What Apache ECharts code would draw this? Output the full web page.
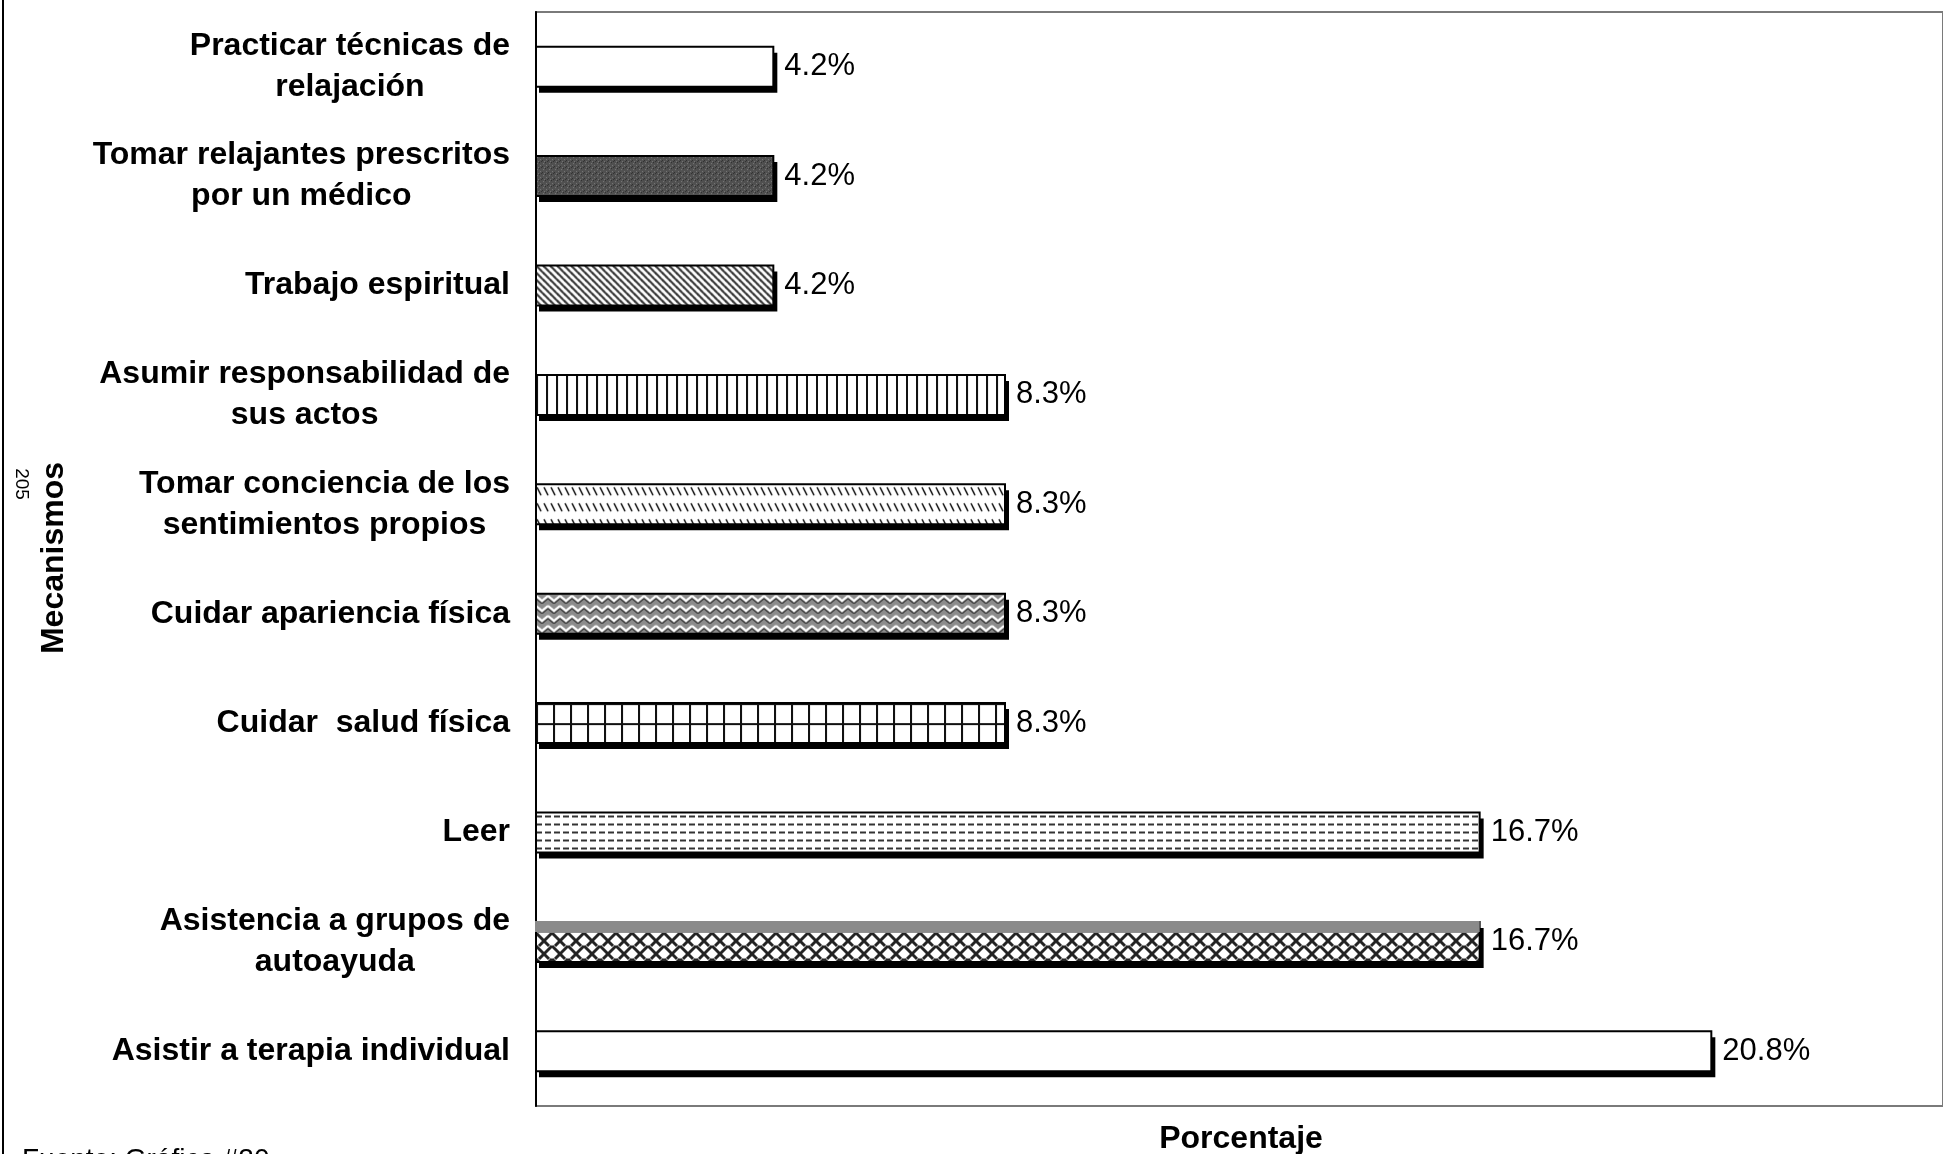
<!DOCTYPE html>
<html><head><meta charset="utf-8">
<script src="https://cdn.jsdelivr.net/npm/echarts@6/dist/echarts.min.js"></script>
<style>html,body{margin:0;padding:0;background:#fff}#c{width:1943px;height:1154px}</style>
</head><body><div id="c"></div>
<script>
const categories = [
  "Practicar técnicas de\nrelajación",
  "Tomar relajantes prescritos\npor un médico",
  "Trabajo espiritual",
  "Asumir responsabilidad de\nsus actos",
  "Tomar conciencia de los\nsentimientos propios",
  "Cuidar apariencia física",
  "Cuidar  salud física",
  "Leer",
  "Asistencia a grupos de\nautoayuda",
  "Asistir a terapia individual"
];
const values = [4.2, 4.2, 4.2, 8.3, 8.3, 8.3, 8.3, 16.7, 16.7, 20.8];
const xTitle = "Porcentaje";
const yTitle = "Mecanismos";
const pageNo = "205";
const sourceNote = "Fuente: Gráfica #20";

function tile(w, h, draw) {
  const c = document.createElement('canvas');
  c.width = w; c.height = h;
  const g = c.getContext('2d');
  draw(g, w, h);
  return { image: c, repeat: 'repeat' };
}
const patterns = [
  '#ffffff',
  tile(6, 6, (g) => {
    g.fillStyle = '#505050'; g.fillRect(0, 0, 6, 6);
    g.fillStyle = '#7a7a7a'; g.fillRect(1, 1, 1, 1); g.fillRect(4, 3, 1, 1); g.fillRect(2, 5, 1, 1);
    g.fillStyle = '#2e2e2e'; g.fillRect(3, 0, 1, 1); g.fillRect(0, 4, 1, 1); g.fillRect(5, 5, 1, 1);
  }),
  tile(7, 7, (g) => {
    g.fillStyle = '#ffffff'; g.fillRect(0, 0, 7, 7);
    g.strokeStyle = '#3a3a3a'; g.lineWidth = 2.2;
    for (let k = -1; k <= 1; k++) { g.beginPath(); g.moveTo(k * 7 - 1, -1); g.lineTo(k * 7 + 8, 8); g.stroke(); }
  }),
  tile(10, 10, (g) => {
    g.fillStyle = '#ffffff'; g.fillRect(0, 0, 10, 10);
    g.fillStyle = '#111'; g.fillRect(0, 0, 2, 10);
  }),
  tile(7, 16, (g) => {
    g.fillStyle = '#ffffff'; g.fillRect(0, 0, 7, 16);
    g.strokeStyle = '#111'; g.lineWidth = 1.6;
    g.beginPath(); g.moveTo(1, 3); g.lineTo(5, 11); g.stroke();
  }),
  tile(12, 10, (g) => {
    g.fillStyle = '#8c8c8c'; g.fillRect(0, 0, 12, 10);
    g.strokeStyle = '#ffffff'; g.lineWidth = 2.2;
    g.beginPath(); g.moveTo(0, 2); g.lineTo(6, 7); g.lineTo(12, 2); g.stroke();
    g.strokeStyle = '#3c3c3c'; g.lineWidth = 1.2;
    g.beginPath(); g.moveTo(0, 5); g.lineTo(6, 10); g.lineTo(12, 5); g.stroke();
  }),
  tile(17, 20, (g) => {
    g.fillStyle = '#ffffff'; g.fillRect(0, 0, 17, 20);
    g.fillStyle = '#111'; g.fillRect(0, 0, 2, 20); g.fillRect(0, 0, 17, 2);
  }),
  tile(9, 8, (g) => {
    g.fillStyle = '#ffffff'; g.fillRect(0, 0, 9, 8);
    g.fillStyle = '#333'; g.fillRect(0, 3, 6, 2);
  }),
  tile(16, 120, (g) => {
    g.fillStyle = '#ffffff'; g.fillRect(0, 0, 16, 120);
    g.fillStyle = '#8a8a8a'; g.fillRect(0, 0, 16, 11);
    g.save(); g.beginPath(); g.rect(0, 11, 16, 109); g.clip();
    g.strokeStyle = '#222'; g.lineWidth = 3;
    for (let k = -1; k <= 1; k++) {
      for (let r = 0; r < 10; r++) {
        const y0 = 11 + r * 13;
        g.beginPath(); g.moveTo(k * 16, y0); g.lineTo(k * 16 + 13, y0 + 13); g.stroke();
        g.beginPath(); g.moveTo(k * 16 + 16, y0); g.lineTo(k * 16 + 3, y0 + 13); g.stroke();
      }
    }
    g.restore();
  }),
  '#ffffff'
];
const noTopBorder = { 8: true };

const FONT = '"Liberation Sans", Arial, sans-serif';
const BAR_H = 40;
const chart = echarts.init(document.getElementById('c'), null, { renderer: 'canvas' });
chart.setOption({
  backgroundColor: '#ffffff',
  animation: false,
  grid: { left: 536, top: 12, width: 1416, height: 1094, show: true, borderColor: '#7a7a7a', borderWidth: 2, containLabel: false },
  xAxis: {
    type: 'value', min: 0, max: 24.9,
    axisLine: { show: false }, axisTick: { show: false }, axisLabel: { show: false }, splitLine: { show: false }
  },
  yAxis: {
    type: 'category', inverse: true, data: categories,
    axisLine: { show: true, lineStyle: { color: '#000', width: 2 } },
    axisTick: { show: false },
    axisLabel: {
      margin: 26, align: 'right',
      formatter: (v) => v.split('\n').map(l => '{c|' + l + '}').join('\n'),
      rich: { c: { align: 'center', fontFamily: FONT, fontWeight: 'bold', fontSize: 32, lineHeight: 41, color: '#000' } }
    }
  },
  series: [{
    type: 'custom',
    data: values.map((v, i) => [v, i]),
    encode: { x: 0, y: 1 },
    renderItem: (params, api) => {
      const v = api.value(0), idx = api.value(1);
      const s = api.coord([0, idx]);
      const e = api.coord([v, idx]);
      const top = s[1] - BAR_H / 2;
      const w = e[0] - s[0];
      let fill = patterns[params.dataIndex];
      if (typeof fill === 'object') fill = Object.assign({}, fill, { x: s[0], y: top });
      const children = [
        { type: 'rect', shape: { x: s[0] + 3, y: top + 6, width: w + 1, height: BAR_H }, style: { fill: '#000' } },
        { type: 'rect', shape: { x: s[0], y: top, width: w, height: BAR_H }, style: { fill: fill, stroke: '#000', lineWidth: 2 } }
      ];
      if (noTopBorder[params.dataIndex]) {
        children.push({ type: 'rect', shape: { x: s[0] - 1, y: top - 1, width: w + 1, height: 11 }, style: { fill: '#8a8a8a' } });
      }
      children.push({ type: 'text', x: e[0] + 11, y: s[1], style: { text: v.toFixed(1) + '%', fontFamily: FONT, fontSize: 31, fill: '#000', align: 'left', verticalAlign: 'middle' } });
      return { type: 'group', children };
    }
  }],
  graphic: [
    { type: 'line', shape: { x1: 3, y1: 0, x2: 3, y2: 1154 }, style: { stroke: '#000', lineWidth: 2 } },
    { type: 'text', x: 1241, y: 1139, style: { text: xTitle, fontFamily: FONT, fontWeight: 'bold', fontSize: 32, fill: '#000', align: 'center', verticalAlign: 'middle' } },
    { type: 'text', x: 54, y: 558, rotation: Math.PI / 2, style: { text: yTitle, fontFamily: FONT, fontWeight: 'bold', fontSize: 32, fill: '#000', align: 'center', verticalAlign: 'middle' } },
    { type: 'text', x: 21, y: 484, rotation: -Math.PI / 2, style: { text: pageNo, fontFamily: FONT, fontSize: 19, fill: '#000', align: 'center', verticalAlign: 'middle' } },
    { type: 'text', x: 22, y: 1146, style: { text: sourceNote, fontFamily: FONT, fontSize: 28, fill: '#000', align: 'left', verticalAlign: 'top' } }
  ]
});
</script>
</body></html>
